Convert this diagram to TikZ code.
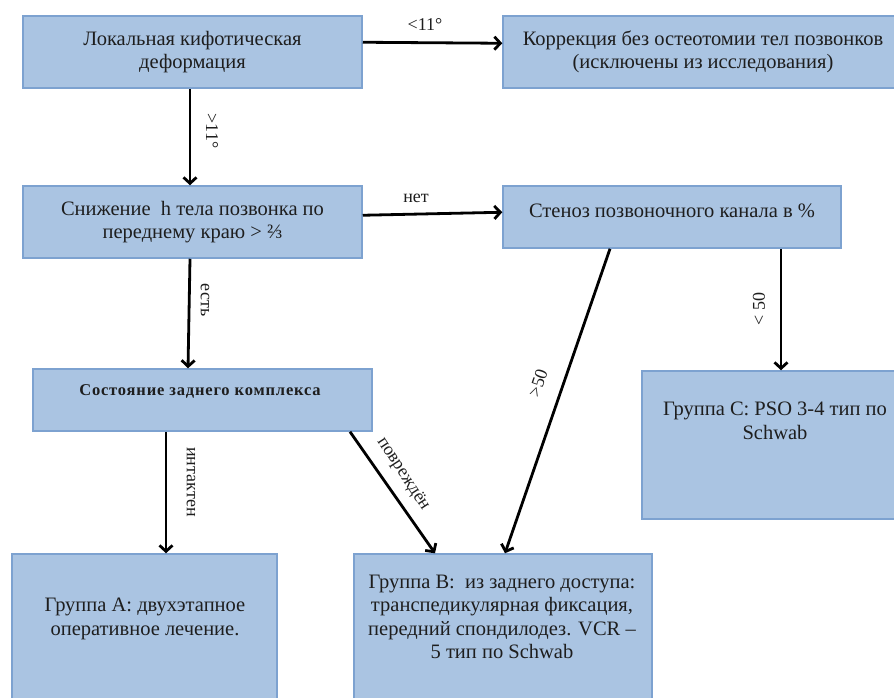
\documentclass[tikz,border=0pt]{standalone}
\usepackage{fontspec}
\setmainfont{Liberation Serif}
\newfontfamily\tnr{Liberation Serif}
\usetikzlibrary{arrows.meta,calc}
\definecolor{boxfill}{RGB}{170,196,226}
\definecolor{boxedge}{RGB}{125,162,208}
\definecolor{txtcol}{RGB}{30,30,30}
\tikzset{
  box/.style={draw=boxedge, fill=boxfill, line width=1.5pt, rectangle, inner sep=0pt},
  txt/.style={align=center, font=\tnr\fontsize{20.5}{23.5}\selectfont, text=txtcol, inner sep=0pt},
  lbl/.style={font=\tnr\fontsize{18}{20}\selectfont, text=txtcol, inner sep=1pt},
  conn/.style={line width=2.8pt, -{Straight Barb[length=6pt,width=13pt]}}
}
\begin{document}
\begin{tikzpicture}[x=1pt,y={(0pt,-1pt)}]
\clip (0,0) rectangle (894,697);
\fill[white] (0,0) rectangle (894,697);
% boxes
\node[box, minimum width=339pt, minimum height=72pt, txt] (b1) at (192.5,52) {Локальная кифотическая\\деформация};
\node[box, minimum width=400pt, minimum height=72pt, txt] (b2) at (703,52) {Коррекция без остеотомии тел позвонков\\(исключены из исследования)};
\node[box, minimum width=339pt, minimum height=72pt, txt] (b3) at (192.5,222) {Снижение\ \ h тела позвонка по\\переднему краю > ⅔};
\node[box, minimum width=338pt, minimum height=62pt] (b4) at (672,217) {};
\node[txt] (t4) at (672,211) {Стеноз позвоночного канала в \%};
\node[box, minimum width=339pt, minimum height=62pt] (b5) at (202.5,400) {};
\node[txt, font=\tnr\bfseries\fontsize{16.5}{20}\selectfont\addfontfeature{LetterSpace=5}] (t5) at (200,391) {Состояние заднего комплекса};
\node[box, minimum width=266pt, minimum height=148pt] (bc) at (775,445) {};
\node[txt] (tc) at (775,421) {Группа С: PSO 3-4 тип по\\Schwab};
\node[box, minimum width=265pt, minimum height=166pt] (ba) at (144.5,637) {};
\node[txt] (ta) at (145,619) {Группа А: двухэтапное\\оперативное лечение.};
\node[box, minimum width=298pt, minimum height=166pt] (bb) at (503,637) {};
\node[txt] (tb) at (502,617) {Группа В:\ \ из заднего доступа:\\транспедикулярная\ фиксация,\\передний спондилодез. VCR –\\5 тип по Schwab};
% connectors
\draw[conn] ([yshift=-27pt]b1.north east) -- ([yshift=-28pt]b2.north west);
\draw[conn] ([xshift=-2.5pt]b1.south) -- ([xshift=-2.5pt]b3.north);
\draw[conn] ([yshift=-30pt]b3.north east) -- ([yshift=-27pt]b4.north west);
\draw[conn] ([xshift=-2.5pt]b3.south) -- ([xshift=-14.5pt]b5.north);
\draw[conn] ([xshift=-62pt]b4.south) -- ([xshift=2pt]bb.north);
\draw[conn] ([xshift=109pt]b4.south) -- ([xshift=6pt]bc.north);
\draw[conn] ([xshift=-36.5pt]b5.south) -- ([xshift=21.5pt]ba.north);
\draw[conn] ([xshift=147.5pt]b5.south) -- ([xshift=-68pt]bb.north);
% labels
\node[lbl] (l1) at (425,25) {<11°};
\node[lbl, rotate=-90] (l2) at (212,131) {>11°};
\node[lbl] (l3) at (416,198) {нет};
\node[lbl, rotate=-90] (l4) at (205,300) {есть};
\node[lbl, rotate=71] (l5) at (538,383) {>50};
\node[lbl, rotate=90] (l6) at (759,309) {< 50};
\node[lbl, rotate=-90] (l7) at (191,482) {интактен};
\node[lbl, rotate=-57] (l8) at (403,474) {повреждён};
\end{tikzpicture}
\end{document}
